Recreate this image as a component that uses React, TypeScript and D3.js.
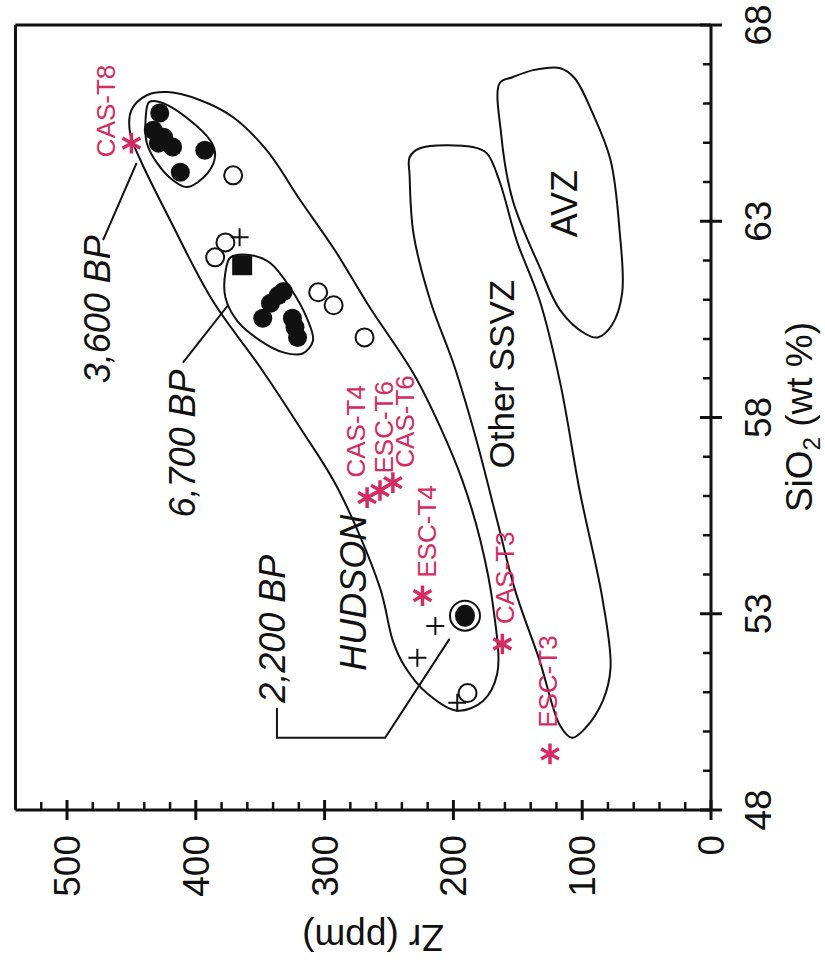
import React, { useEffect, useRef } from "react";
import * as d3 from "d3";

// every point is [SiO2 (wt %), Zr (ppm)]
const filled3600 = [[65.76, 428], [65.32, 433], [65.14, 425], [64.99, 429], [64.89, 418], [64.81, 393], [64.25, 412]];
const filled6700 = [[60.53, 348], [60.91, 342], [61.11, 336], [61.21, 332], [60.53, 325], [60.3, 323], [60.04, 321]];
const square6700 = [[61.88, 364]];
const filled2200 = [[52.95, 191]];
const openCircles = [[64.17, 371], [62.46, 377], [62.08, 385], [61.19, 305], [60.86, 293], [60.04, 269], [50.98, 189]];
const crosses = [[62.59, 366], [52.69, 214], [51.88, 228], [50.73, 197]];

const tephraNames = ["CAS-T8", "CAS-T4", "ESC-T6", "CAS-T6", "ESC-T4", "CAS-T3", "ESC-T3"];
const tephraSiO2 = [64.99, 55.96, 56.14, 56.34, 53.46, 52.23, 49.43];
const tephraZr = [450, 267, 257, 247, 224, 162, 125];
// label offset from the asterisk, in px
const tephraLabelShift = [[-16, 14], [-2, -20], [13, -17], [21, -15], [14, -18], [12, -20], [7, -26]];

const hudsonField = [
  [65.24, 451], [65.83, 450], [66.21, 438], [66.29, 422], [66.09, 397], [65.65, 371], [64.81, 345],
  [63.54, 319], [62.26, 292], [60.86, 266], [59.12, 231], [57.74, 210], [56.39, 193], [54.86, 179],
  [53.15, 169], [51.47, 166], [50.78, 177], [50.53, 197], [50.96, 220], [51.67, 238], [52.31, 247],
  [53.66, 257], [56.21, 290], [57.74, 319], [59.28, 350], [60.98, 387], [63.03, 420], [64.56, 443],
];
const field3600 = [
  [66.04, 436], [65.96, 422], [65.07, 389], [64.68, 385], [64.22, 391], [63.87, 407], [64.05, 418],
  [64.48, 430], [64.99, 438], [65.58, 439],
];
const field6700 = [
  [62.08, 373], [62.13, 356], [61.93, 342], [61.32, 327], [60.55, 314], [59.96, 309], [59.63, 317],
  [59.66, 332], [59.96, 350], [60.47, 368], [61.06, 377], [61.7, 377],
];
const ssvzField = [
  [64.63, 234], [64.86, 226], [64.89, 185], [64.73, 174], [64.0, 164], [62.52, 151], [60.98, 133],
  [58.87, 117], [56.14, 102], [53.33, 84], [51.62, 78], [50.78, 84], [50.07, 98], [49.84, 108],
  [50.14, 117], [51.8, 133], [53.59, 152], [55.37, 166], [57.41, 182], [59.28, 199], [60.98, 218],
  [62.69, 231], [64.17, 234],
];
const avzField = [
  [66.52, 164], [66.67, 154], [66.85, 138], [66.9, 117], [66.65, 106], [65.76, 92], [64.56, 78],
  [62.77, 71], [61.16, 69], [60.35, 77], [60.04, 88], [60.14, 98], [60.73, 117], [61.83, 133],
  [63.54, 154], [65.24, 163],
];

const leader3600 = [[62.52, 472], [64.48, 446]];
const leader6700 = [[59.4, 410], [60.86, 375]];
const leader2200 = [[50.6, 337], [49.84, 337], [49.84, 253], [52.36, 203]];

const siTicks = [48, 53, 58, 63, 68];
const zrTicks = [0, 100, 200, 300, 400, 500];

const RED = "#d42c62";
const FONT = "'Liberation Sans', Arial, Helvetica, sans-serif";

export default function App() {
  const ref = useRef<SVGSVGElement>(null);

  useEffect(() => {
    const svg = d3.select(ref.current);
    svg.selectAll("*").remove();

    const x = d3.scaleLinear().domain([0, 500]).range([711, 67]); // Zr runs right to left
    const y = d3.scaleLinear().domain([48, 68]).range([810, 25]); // SiO2 runs bottom to top
    const px = (d: number[]) => x(d[1]);
    const py = (d: number[]) => y(d[0]);

    const closed = d3.line<number[]>().x(px).y(py).curve(d3.curveCatmullRomClosed.alpha(0.5));
    const open = d3.line<number[]>().x(px).y(py);

    // frame and axes
    const left = x(540);
    const g = svg.append("g").attr("stroke", "#111").attr("fill", "none");
    g.append("line").attr("x1", left).attr("x2", left).attr("y1", y(68)).attr("y2", y(48)).attr("stroke-width", 3);
    g.append("line").attr("x1", left).attr("x2", x(0)).attr("y1", y(68)).attr("y2", y(68)).attr("stroke-width", 3);
    g.append("line").attr("x1", left).attr("x2", x(0)).attr("y1", y(48)).attr("y2", y(48)).attr("stroke-width", 3);
    g.append("line").attr("x1", x(0)).attr("x2", x(0)).attr("y1", y(68)).attr("y2", y(48)).attr("stroke-width", 3);

    d3.range(20, 540, 20).filter((v) => v % 100 !== 0).forEach((v) => {
      g.append("line").attr("x1", x(v)).attr("x2", x(v)).attr("y1", y(48) - 8).attr("y2", y(48)).attr("stroke-width", 2.5);
    });
    zrTicks.forEach((v) => {
      g.append("line").attr("x1", x(v)).attr("x2", x(v)).attr("y1", y(48) - 10).attr("y2", y(48) + 10).attr("stroke-width", 3);
    });
    d3.range(49, 68).filter((v) => !siTicks.includes(v)).forEach((v) => {
      g.append("line").attr("x1", x(0) - 8).attr("x2", x(0)).attr("y1", y(v)).attr("y2", y(v)).attr("stroke-width", 2.5);
    });
    siTicks.forEach((v) => {
      g.append("line").attr("x1", x(0) - 11).attr("x2", x(0) + 11).attr("y1", y(v)).attr("y2", y(v)).attr("stroke-width", 3);
    });

    const t = svg.append("g").attr("font-family", FONT).attr("fill", "#111");
    zrTicks.forEach((v) => {
      t.append("text").attr("transform", `translate(${x(v) + 13},835) rotate(-90)`)
        .attr("text-anchor", "end").attr("font-size", 37).text(v);
    });
    siTicks.forEach((v) => {
      t.append("text").attr("transform", `translate(771,${y(v)}) rotate(-90)`)
        .attr("text-anchor", "middle").attr("font-size", 37).text(v);
    });
    const siTitle = t.append("text").attr("transform", "translate(812,417) rotate(-90)")
      .attr("text-anchor", "middle").attr("font-size", 37);
    siTitle.append("tspan").text("SiO");
    siTitle.append("tspan").attr("font-size", 24).attr("dy", 8).text("2");
    siTitle.append("tspan").attr("dy", -8).text(" (wt %)");
    t.append("text").attr("transform", "translate(373,925) rotate(180)")
      .attr("text-anchor", "middle").attr("font-size", 37).text("Zr (ppm)");

    // fields
    const f = svg.append("g").attr("fill", "none").attr("stroke", "#111").attr("stroke-width", 2);
    [hudsonField, field3600, field6700, ssvzField, avzField].forEach((d) => {
      f.append("path").attr("d", closed(d));
    });
    [leader3600, leader6700, leader2200].forEach((d) => {
      f.append("path").attr("d", open(d));
    });

    // black labels
    const lab = (d: number[], s: string, italic: boolean) =>
      t.append("text").attr("transform", `translate(${px(d)},${py(d)}) rotate(-90)`)
        .attr("font-size", 36).attr("font-style", italic ? "italic" : "normal").text(s);
    lab([58.87, 467], "3,600 BP", true);
    lab([55.45, 401], "6,700 BP", true);
    lab([50.73, 331], "2,200 BP", true);
    lab([56.7, 153], "Other SSVZ", false).attr("font-size", 35);
    lab([62.59, 104], "AVZ", false);
    lab([51.55, 268], "HUDSON", true)
      .attr("stroke", "#fff").attr("stroke-width", 9).attr("paint-order", "stroke");

    // symbols
    const m = svg.append("g");
    openCircles.forEach((d) => {
      m.append("circle").attr("cx", px(d)).attr("cy", py(d)).attr("r", 9)
        .attr("fill", "#fff").attr("stroke", "#111").attr("stroke-width", 2);
    });
    [...filled3600, ...filled6700].forEach((d) => {
      m.append("circle").attr("cx", px(d)).attr("cy", py(d)).attr("r", 9.5).attr("fill", "#111");
    });
    square6700.forEach((d) => {
      m.append("rect").attr("x", px(d) - 10).attr("y", py(d) - 10).attr("width", 20).attr("height", 20).attr("fill", "#111");
    });
    filled2200.forEach((d) => {
      m.append("circle").attr("cx", px(d)).attr("cy", py(d)).attr("r", 15)
        .attr("fill", "#fff").attr("stroke", "#111").attr("stroke-width", 2);
      m.append("ellipse").attr("cx", px(d)).attr("cy", py(d)).attr("rx", 10).attr("ry", 11).attr("fill", "#111");
    });
    crosses.forEach((d) => {
      m.append("path").attr("d", `M${px(d) - 9},${py(d)}h18M${px(d)},${py(d) - 9}v18`)
        .attr("stroke", "#111").attr("stroke-width", 2);
    });

    // tephra asterisks and names
    const star = d3.symbol().type(d3.symbolAsterisk).size(300);
    tephraNames.forEach((name, i) => {
      const cx = x(tephraZr[i]);
      const cy = y(tephraSiO2[i]);
      m.append("path").attr("d", star()).attr("transform", `translate(${cx},${cy})`)
        .attr("fill", "none").attr("stroke", RED).attr("stroke-width", 3.5);
      const [dx, dy] = tephraLabelShift[i];
      m.append("text").attr("transform", `translate(${cx + dx},${cy + dy}) rotate(-90)`)
        .attr("font-family", FONT).attr("font-size", 26).attr("fill", RED).text(name);
    });
  }, []);

  return (
    <svg ref={ref} width={825} height={971} style={{ position: "absolute", left: 0, top: 0, background: "#fff" }} />
  );
}
